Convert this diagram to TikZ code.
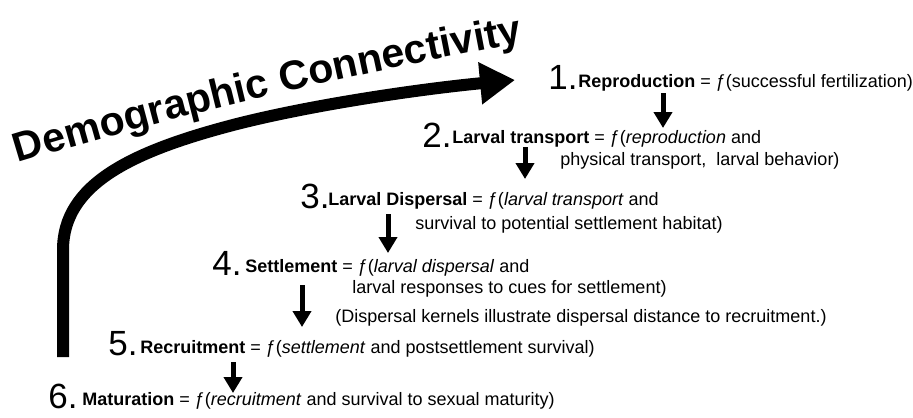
\documentclass[tikz,border=0pt]{standalone}
\usepackage{fontspec}
\setmainfont{Liberation Sans}
\usetikzlibrary{arrows.meta,decorations.text}

\begin{document}
\begin{tikzpicture}[x=0.5pt,y=0.5pt,
  num/.style={anchor=base west,inner sep=0pt,font=\fontsize{17.5}{20}\selectfont},
  txt/.style={anchor=base west,inner sep=0pt,font=\fontsize{9}{11}\selectfont},
  down/.style={line width=2.5pt,-{Triangle[length=8pt,width=9pt]}}]
\useasboundingbox (0,0) rectangle (913,-417);

% title, slightly arched
\coordinate (t0) at (18,-163);
\coordinate (t1) at (532,-41);
\path[decorate,decoration={text along path,text align=left,
  text={|\fontsize{20.5}{24}\selectfont\bfseries|Demographic Connectivity}}]
  (t0) .. controls (176,-115) and (350,-74) .. (t1);

% the big loop back to reproduction
\coordinate (loop0) at (63,-357);
\coordinate (loop1) at (515,-80);
\draw[line width=6pt,-{Triangle[length=17.5pt,width=20pt]}]
  (loop0) -- (63,-250) .. controls (63,-185) and (130,-152) .. (233,-125)
  .. controls (310,-105) and (420,-89) .. (loop1);

% stages
\node[num] (n1) at (548,-90) {1.};
\node[txt] (l1) at (578,-88) {\textbf{Reproduction} = ƒ(successful fertilization)};
\node[num] (n2) at (422,-147) {2.};
\node[txt] (l2) at (452,-143) {\textbf{Larval transport} = ƒ(\textit{reproduction} and};
\node[txt] (l2b) at (560,-165) {physical transport,\ \ larval behavior)};
\node[num] (n3) at (300,-208) {3.};
\node[txt] (l3) at (328,-205) {\textbf{Larval Dispersal} = ƒ(\textit{larval transport} and};
\node[txt] (l3b) at (415,-229) {survival to potential settlement habitat)};
\node[num] (n4) at (212,-275) {4.};
\node[txt] (l4) at (245,-272) {\textbf{Settlement} = ƒ(\textit{larval dispersal} and};
\node[txt] (l4b) at (352,-293) {larval responses to cues for settlement)};
\node[txt] (l4c) at (335,-322) {(Dispersal kernels illustrate dispersal distance to recruitment.)};
\node[num] (n5) at (108,-355) {5.};
\node[txt] (l5) at (140,-353) {\textbf{Recruitment} = ƒ(\textit{settlement} and postsettlement survival)};
\node[num] (n6) at (48,-408) {6.};
\node[txt] (l6) at (82,-405) {\textbf{Maturation} = ƒ(\textit{recruitment} and survival to sexual maturity)};

% arrows between stages
\coordinate (a1) at (663,-93);  \coordinate (b1) at (663,-128);
\coordinate (a2) at (525,-147); \coordinate (b2) at (525,-179);
\coordinate (a3) at (388,-214); \coordinate (b3) at (388,-253);
\coordinate (a4) at (302,-285); \coordinate (b4) at (302,-327);
\coordinate (a5) at (233,-362); \coordinate (b5) at (233,-393);
\draw[down] (a1) -- (b1);
\draw[down] (a2) -- (b2);
\draw[down] (a3) -- (b3);
\draw[down] (a4) -- (b4);
\draw[down] (a5) -- (b5);

\end{tikzpicture}
\end{document}
